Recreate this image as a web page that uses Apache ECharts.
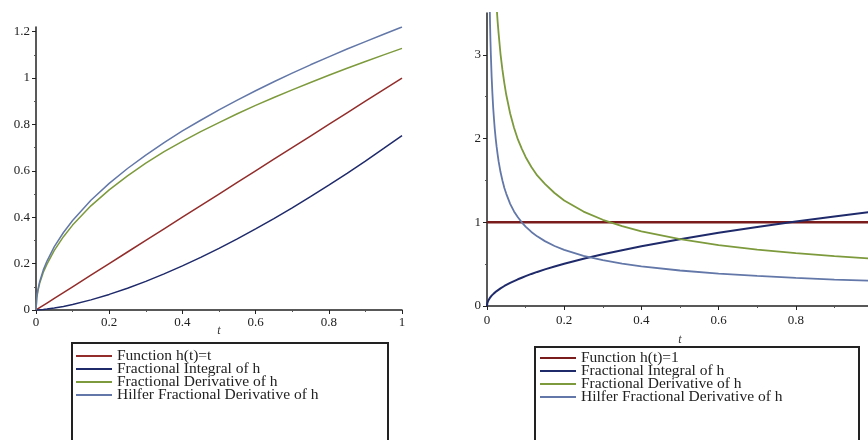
<!DOCTYPE html>
<html><head><meta charset="utf-8">
<script src="https://cdn.jsdelivr.net/npm/echarts@6/dist/echarts.min.js"></script>
<style>html,body{margin:0;padding:0;background:#fff}#c{width:868px;height:440px}</style>
</head><body><div id="c"></div>
<script>
// ---- Left panel: h(t) = t ----
const tLeft = [0, 0.002, 0.005, 0.01, 0.02, 0.03, 0.05, 0.075, 0.1, 0.15, 0.2, 0.25, 0.3, 0.35, 0.4, 0.45, 0.5, 0.55, 0.6, 0.65, 0.7, 0.75, 0.8, 0.85, 0.9, 0.95, 1];
const funcLeft = [0, 0.002, 0.005, 0.01, 0.02, 0.03, 0.05, 0.075, 0.1, 0.15, 0.2, 0.25, 0.3, 0.35, 0.4, 0.45, 0.5, 0.55, 0.6, 0.65, 0.7, 0.75, 0.8, 0.85, 0.9, 0.95, 1];
const integralLeft = [0, 0.0001, 0.0003, 0.0008, 0.0021, 0.0039, 0.0084, 0.0154, 0.0238, 0.0437, 0.0672, 0.094, 0.1236, 0.1557, 0.1903, 0.227, 0.2659, 0.3067, 0.3495, 0.394, 0.4404, 0.4884, 0.5381, 0.5893, 0.6421, 0.6963, 0.752];
const derivLeft = [0, 0.05, 0.08, 0.115, 0.163, 0.198, 0.257, 0.316, 0.366, 0.449, 0.518, 0.578, 0.633, 0.683, 0.727, 0.769, 0.808, 0.846, 0.882, 0.916, 0.949, 0.981, 1.012, 1.042, 1.071, 1.1, 1.128];
const hilferLeft = [0, 0.055, 0.086, 0.122, 0.173, 0.211, 0.273, 0.334, 0.386, 0.473, 0.546, 0.61, 0.668, 0.722, 0.772, 0.818, 0.863, 0.905, 0.945, 0.984, 1.021, 1.057, 1.091, 1.125, 1.157, 1.189, 1.22];

// ---- Right panel: h(t) = 1 ----
const tRight = [0, 0.001, 0.002, 0.003, 0.004, 0.005, 0.006, 0.007, 0.008, 0.009, 0.01, 0.012, 0.014, 0.016, 0.018, 0.02, 0.0225, 0.025, 0.0275, 0.03, 0.035, 0.04, 0.045, 0.05, 0.06, 0.07, 0.08, 0.09, 0.1, 0.115, 0.13, 0.15, 0.175, 0.2, 0.25, 0.3, 0.35, 0.4, 0.5, 0.6, 0.7, 0.8, 0.9, 1];
const funcRight = [1, 1, 1, 1, 1, 1, 1, 1, 1, 1, 1, 1, 1, 1, 1, 1, 1, 1, 1, 1, 1, 1, 1, 1, 1, 1, 1, 1, 1, 1, 1, 1, 1, 1, 1, 1, 1, 1, 1, 1, 1, 1, 1, 1];
const integralRight = [0, 0.036, 0.05, 0.062, 0.071, 0.08, 0.087, 0.094, 0.101, 0.107, 0.113, 0.124, 0.133, 0.143, 0.151, 0.16, 0.169, 0.178, 0.187, 0.195, 0.211, 0.226, 0.239, 0.252, 0.276, 0.298, 0.319, 0.338, 0.357, 0.383, 0.407, 0.437, 0.472, 0.504, 0.564, 0.618, 0.667, 0.713, 0.798, 0.874, 0.944, 1.009, 1.07, 1.128];
const derivRight = [null, 17.8, 12.6, 10.3, 8.92, 7.98, 7.28, 6.74, 6.31, 5.95, 5.64, 5.15, 4.77, 4.46, 4.2, 3.99, 3.76, 3.57, 3.4, 3.26, 3.01, 2.82, 2.66, 2.52, 2.3, 2.13, 1.99, 1.88, 1.78, 1.66, 1.56, 1.46, 1.35, 1.26, 1.128, 1.03, 0.953, 0.892, 0.798, 0.728, 0.674, 0.631, 0.595, 0.564];
const hilferRight = [null, 9.49, 6.71, 5.48, 4.74, 4.24, 3.87, 3.59, 3.35, 3.16, 3.0, 2.74, 2.54, 2.37, 2.24, 2.12, 2.0, 1.9, 1.81, 1.73, 1.6, 1.5, 1.41, 1.34, 1.22, 1.13, 1.06, 1.0, 0.949, 0.885, 0.832, 0.775, 0.717, 0.671, 0.6, 0.548, 0.507, 0.474, 0.424, 0.387, 0.359, 0.335, 0.316, 0.3];

const namesLeft = ['Function h(t)=t', 'Fractional Integral of h', 'Fractional Derivative of h', 'Hilfer Fractional Derivative of h'];
const namesRight = ['Function h(t)=1', 'Fractional Integral of h', 'Fractional Derivative of h', 'Hilfer Fractional Derivative of h'];
const leftYTicks = [0, 0.2, 0.4, 0.6, 0.8, 1, 1.2];
const rightYTicks = [0, 1, 2, 3];

const colors = ['#922d2b', '#1f2a6b', '#7d9a3c', '#6378a8'];
const serif = '"Liberation Serif", "DejaVu Serif", serif';

function pairs(ts, ys) { return ts.map((t, i) => [t, ys[i] === null ? '-' : ys[i]]); }

const labelStyle = { color: '#222', fontFamily: serif, fontSize: 13 };
const axisCommon = {
  type: 'value',
  axisLine: { show: true, onZero: false, lineStyle: { color: '#222', width: 1.5 } },
  axisTick: { show: true, inside: false, length: 4, lineStyle: { color: '#222' } },
  minorTick: { show: true, splitNumber: 2, length: 2, lineStyle: { color: '#555' } },
  splitLine: { show: false },
  axisLabel: labelStyle
};

function mk(extra) { return Object.assign({}, JSON.parse(JSON.stringify(axisCommon)), extra); }

function lineSeries(name, x, y, data, color, width) {
  return { name, type: 'line', xAxisIndex: x, yAxisIndex: y, data, showSymbol: false, symbol: 'none',
    smooth: false, clip: true, lineStyle: { color, width }, itemStyle: { color }, emphasis: { disabled: true } };
}

const chart = echarts.init(document.getElementById('c'), null, { renderer: 'canvas' });
const legendText = { fontFamily: serif, fontSize: 15.5, lineHeight: 13, color: '#222' };
const nameStyle = { fontFamily: serif, fontStyle: 'italic', fontSize: 12, color: '#333' };
const option = {
  animation: false,
  backgroundColor: '#fff',
  grid: [
    { left: 36, width: 366, top: 27, height: 283, outerBoundsMode: 'none', containLabel: false },
    { left: 487, width: 386, top: 13, height: 293, outerBoundsMode: 'none', containLabel: false }
  ],
  xAxis: [
    mk({ gridIndex: 0, min: 0, max: 1, interval: 0.2, name: 't', nameLocation: 'middle', nameGap: 15,
      nameMoveOverlap: false, nameTextStyle: nameStyle,
      axisLabel: Object.assign({ margin: 6 }, labelStyle) }),
    mk({ gridIndex: 1, min: 0, max: 1, interval: 0.2, name: 't', nameLocation: 'middle', nameGap: 28,
      nameMoveOverlap: false, nameTextStyle: nameStyle,
      axisLabel: Object.assign({ margin: 8 }, labelStyle) })
  ],
  yAxis: [
    mk({ gridIndex: 0, min: 0, max: 1.22, interval: 0.2,
      axisLabel: Object.assign({ margin: 6, customValues: leftYTicks }, labelStyle),
      axisTick: { show: true, length: 4, lineStyle: { color: '#222' }, customValues: leftYTicks } }),
    mk({ gridIndex: 1, min: 0, max: 3.5, interval: 1,
      axisLabel: Object.assign({ margin: 6, customValues: rightYTicks }, labelStyle),
      axisTick: { show: true, length: 4, lineStyle: { color: '#222' }, customValues: rightYTicks } })
  ],
  legend: [
    { data: namesLeft, orient: 'vertical', left: 76, top: 348, itemWidth: 36, itemHeight: 2, itemGap: -3,
      icon: 'rect', padding: 0, selectedMode: false, textStyle: legendText },
    { data: namesRight, orient: 'vertical', left: 540, top: 350, itemWidth: 36, itemHeight: 2, itemGap: -3,
      icon: 'rect', padding: 0, selectedMode: false, textStyle: legendText }
  ],
  graphic: [
    { type: 'rect', shape: { x: 72, y: 343, width: 316, height: 120 }, style: { fill: 'none', stroke: '#222', lineWidth: 2 } },
    { type: 'rect', shape: { x: 535, y: 347, width: 324, height: 120 }, style: { fill: 'none', stroke: '#222', lineWidth: 2 } }
  ],
  series: [
    lineSeries(namesLeft[0], 0, 0, pairs(tLeft, funcLeft), colors[0], 1.5),
    lineSeries(namesLeft[1], 0, 0, pairs(tLeft, integralLeft), colors[1], 1.5),
    lineSeries(namesLeft[2], 0, 0, pairs(tLeft, derivLeft), colors[2], 1.5),
    lineSeries(namesLeft[3], 0, 0, pairs(tLeft, hilferLeft), colors[3], 1.5),
    lineSeries(namesRight[0], 1, 1, pairs(tRight, funcRight), '#7a1c1c', 2.5),
    lineSeries(namesRight[1], 1, 1, pairs(tRight, integralRight), colors[1], 2),
    lineSeries(namesRight[2], 1, 1, pairs(tRight, derivRight), colors[2], 1.8),
    lineSeries(namesRight[3], 1, 1, pairs(tRight, hilferRight), colors[3], 1.8)
  ]
};
chart.setOption(option);
</script></body></html>
